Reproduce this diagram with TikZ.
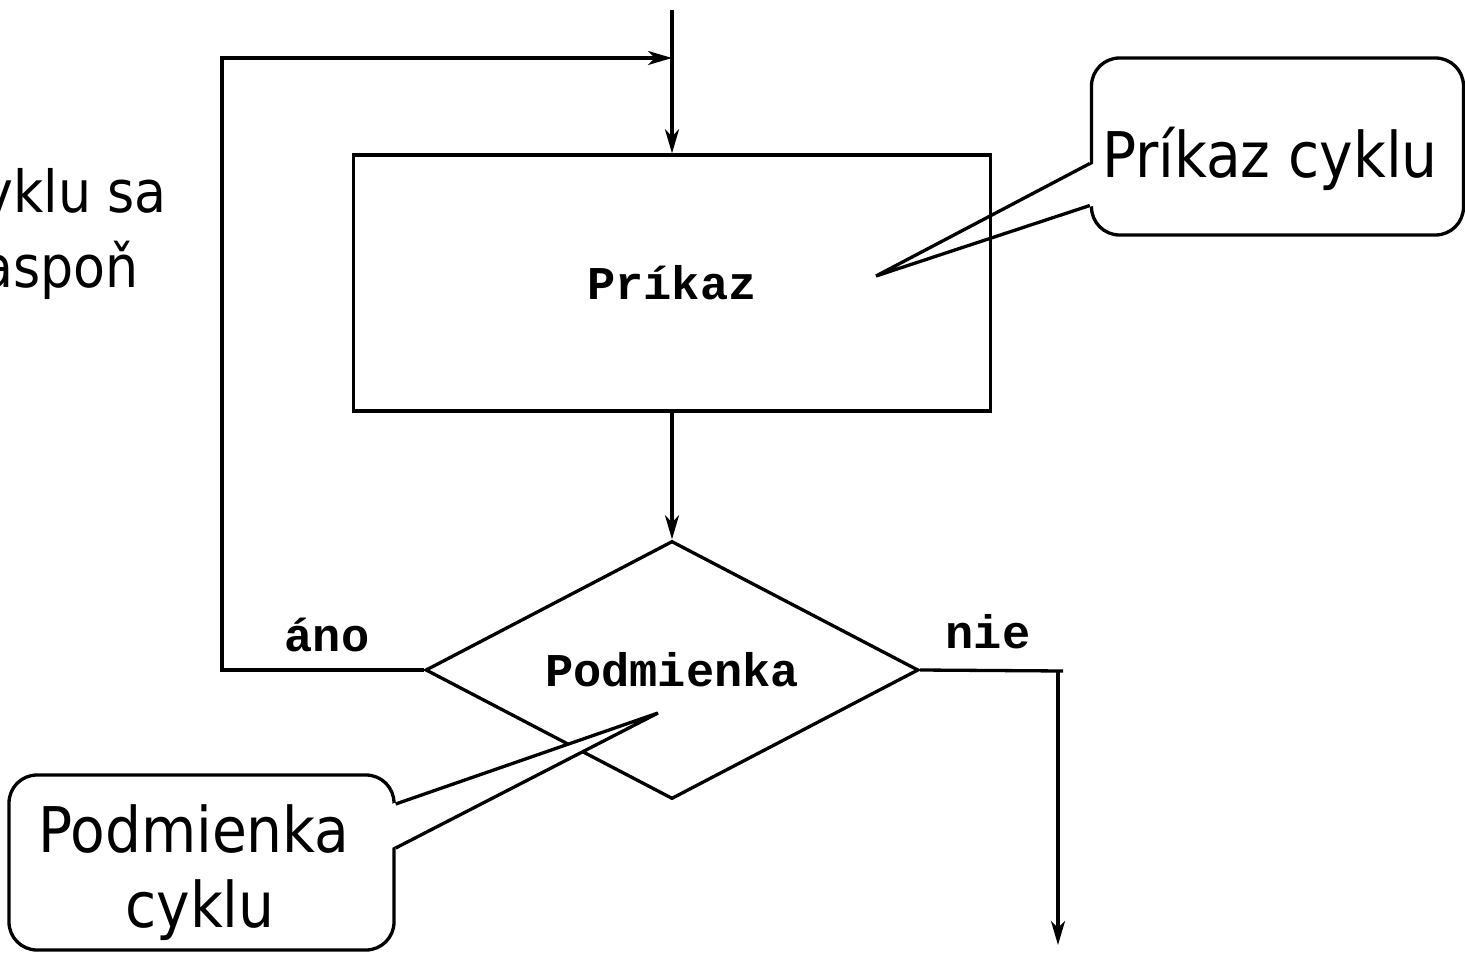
\documentclass[tikz,border=0pt]{standalone}
\usepackage{fontspec}
\setmainfont{DejaVu Sans Condensed}
\setmonofont{Liberation Mono}
\usetikzlibrary{shapes.geometric,arrows.meta}

\begin{document}
\begin{tikzpicture}[x=1pt,y=1pt,
statement/.style={
% The shape:
rectangle,
% The size:
minimum width=637pt, minimum height=256pt,
% The border:
line width=3.3pt, draw,
% Font
font=\fontsize{47}{50}\selectfont\ttfamily\bfseries
},
condition/.style={
% The shape:
diamond, aspect=1.9, inner sep=0pt,
% The size:
minimum width=493pt, minimum height=258pt,
% The border:
line width=3.3pt, draw,
% Font
font=\fontsize{47}{50}\selectfont\ttfamily\bfseries
},
branch/.style={font=\fontsize{47}{50}\selectfont\ttfamily\bfseries},
note/.style={
% The shape:
rectangle, rounded corners=28pt,
% The border:
line width=3.3pt, draw, fill=white
},
notetext/.style={font=\fontsize{63}{75}\selectfont, inner sep=0pt, anchor=base},
remark/.style={font=\fontsize{58}{75}\selectfont, inner sep=0pt, anchor=base east},
flowline/.style={line width=3.3pt, -{Stealth[length=24pt,width=14pt,inset=7pt]}},
plainline/.style={line width=3.3pt}
]
\useasboundingbox (0,0) rectangle (1465,-955);
\clip (0,0) rectangle (1465,-955);

% text cut at the left edge
\node[remark] (remarkA) at (167,-212) {cyklu sa};
\node[remark] (remarkB) at (139,-287) {aspoň};

% callout for the statement
\coordinate (cmdtip) at (876,-276);
\node[note, minimum width=372pt, minimum height=177pt] (cmdnote) at (1277.5,-146.5) {};
\fill[white] (cmdtip) -- ([shift={(4pt,-17pt)}]cmdnote.west) -- ([shift={(4pt,-59pt)}]cmdnote.west) -- cycle;
\draw[plainline, line join=miter] ([yshift=-17pt]cmdnote.west) -- (cmdtip) -- ([yshift=-59pt]cmdnote.west);
\node[notetext] (cmdnotetext) at (1270,-178) {Príkaz cyklu};

% the loop
\node[statement] (cmd) at (672,-283) {Príkaz};
\node[condition] (cond) at (672,-670) {Podmienka};
\coordinate (start) at (672,-10);
\coordinate (join) at (672,-58);
\coordinate (loop) at (222,-58);
\coordinate (exitcorner) at (1058,-671);
\coordinate (end) at (1058,-945);
\draw[flowline] (start) -- (cmd);
\draw[flowline] (cmd) -- (cond);
\draw[flowline] (cond.west) -| (loop) -- (join);
\draw[plainline] (cond.east) -- ([xshift=5pt]exitcorner);
\draw[flowline] (exitcorner) -- (end);
\node[branch] (yes) at (327,-635) {áno};
\node[branch] (no) at (988,-632) {nie};

% callout for the condition
\coordinate (condtip) at (658,-713);
\node[note, minimum width=385pt, minimum height=175pt] (condnote) at (201.5,-862.5) {};
\fill[white] (condtip) -- ([shift={(-4pt,58.5pt)}]condnote.east) -- ([shift={(-4pt,14.5pt)}]condnote.east) -- cycle;
\draw[plainline, line join=miter] ([yshift=58.5pt]condnote.east) -- (condtip) -- ([yshift=14.5pt]condnote.east);
\node[notetext] (condnotetextA) at (194,-852) {Podmienka};
\node[notetext] (condnotetextB) at (200,-927) {cyklu};
\end{tikzpicture}
\end{document}
